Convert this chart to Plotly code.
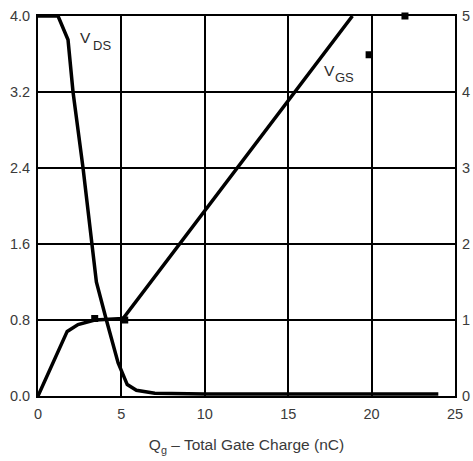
import plotly.graph_objects as go

# VDS curve (left axis)
qg_vds = [0, 1.2, 1.8, 2.1, 2.7, 3.2, 3.5, 4.1, 4.8, 5.35, 5.9, 7, 10, 24]
vds = [4.0, 4.0, 3.75, 3.2, 2.4, 1.64, 1.2, 0.8, 0.35, 0.12, 0.06, 0.03, 0.02, 0.02]

# VGS curve (right axis)
qg_vgs = [0, 1.75, 2.4, 3.4, 5.1, 18.85]
vgs = [0, 0.85, 0.94, 1.0, 1.02, 5.0]

# square markers (right axis)
qg_mark = [3.4, 5.2, 19.85, 22.0]
vgs_mark = [1.02, 1.0, 4.49, 5.0]

left_ticks = [0.0, 0.8, 1.6, 2.4, 3.2, 4.0]
left_labels = ["0.0", "0.8", "1.6", "2.4", "3.2", "4.0"]
right_ticks = [0, 1, 2, 3, 4, 5]
x_ticks = [0, 5, 10, 15, 20, 25]

FONT = "Liberation Sans, Arial, sans-serif"

fig = go.Figure()
fig.add_trace(go.Scatter(x=qg_vds, y=vds, mode="lines",
                         line=dict(color="black", width=3.5), yaxis="y",
                         showlegend=False, cliponaxis=False))
fig.add_trace(go.Scatter(x=qg_vgs, y=vgs, mode="lines",
                         line=dict(color="black", width=3.5), yaxis="y2",
                         showlegend=False, cliponaxis=False))
fig.add_trace(go.Scatter(x=qg_mark, y=vgs_mark, mode="markers",
                         marker=dict(symbol="square", size=7, color="black"),
                         yaxis="y2", showlegend=False, cliponaxis=False))


def label(x, y, text, size):
    return dict(x=x, y=y, xref="x", yref="y", text=text, showarrow=False,
                xanchor="left", yanchor="middle",
                font=dict(size=size, color="#2a2a2a"))


fig.update_layout(
    width=473, height=461,
    margin=dict(l=38, r=18, t=16, b=65),
    paper_bgcolor="white", plot_bgcolor="white",
    font=dict(family=FONT, size=14.5, color="#3a3a3a"),
    xaxis=dict(range=[0, 25], tickvals=x_ticks, showgrid=True,
               gridcolor="black", gridwidth=2, zeroline=False,
               showline=True, linecolor="black", linewidth=2, mirror=True,
               ticks="", ticklabelstandoff=4, automargin=False,
               title=dict(text="Q<sub>g</sub> – Total Gate Charge (nC)",
                          font=dict(size=15.5, color="#3a3a3a"), standoff=18)),
    yaxis=dict(range=[0, 4.0], tickvals=left_ticks, ticktext=left_labels,
               showgrid=True, gridcolor="black", gridwidth=2, zeroline=False,
               showline=True, linecolor="black", linewidth=2, mirror=True,
               ticks="", ticklabelstandoff=3, automargin=False),
    yaxis2=dict(range=[0, 5], tickvals=right_ticks, overlaying="y",
                side="right", showgrid=False, zeroline=False,
                showline=False, ticks="", ticklabelstandoff=6,
                automargin=False),
    annotations=[
        label(2.40, 3.77, "V", 15.5),
        label(3.20, 3.69, "DS", 13),
        label(17.05, 3.43, "V", 15.5),
        label(17.70, 3.35, "GS", 13),
    ],
)

fig.write_html("out.html", config={"displayModeBar": False},
               post_script="document.body.style.margin='0';document.body.style.padding='0';")
